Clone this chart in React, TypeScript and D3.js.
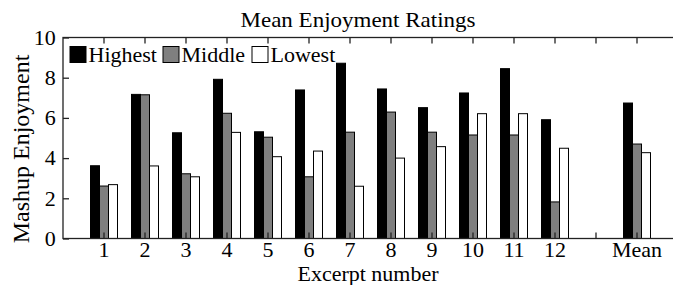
import React, { useEffect, useRef } from 'react';
import * as d3 from 'd3';

const tickLabels = ['1', '2', '3', '4', '5', '6', '7', '8', '9', '10', '11', '12', '', 'Mean'];
const seriesNames = ['Highest', 'Middle', 'Lowest'];
const highest = [3.62, 7.17, 5.26, 7.92, 5.31, 7.39, 8.72, 7.44, 6.51, 7.24, 8.45, 5.91, null, 6.74];
const middle = [2.61, 7.15, 3.22, 6.23, 5.04, 3.07, 5.29, 6.29, 5.29, 5.15, 5.15, 1.82, null, 4.7];
const lowest = [2.68, 3.61, 3.07, 5.28, 4.07, 4.35, 2.6, 4.0, 4.57, 6.21, 6.21, 4.49, null, 4.27];
const yTicks = [0, 2, 4, 6, 8, 10];

const colors = ['#000000', '#7f7f7f', '#ffffff'];
const font = '"Liberation Serif", "Times New Roman", serif';

const App: React.FC = () => {
  const svgRef = useRef<SVGSVGElement | null>(null);

  useEffect(() => {
    const svg = d3.select(svgRef.current);
    svg.selectAll('*').remove();

    const left = 63;
    const right = 678;
    const top = 37.5;
    const bottom = 238.5;
    const fs = 20;
    const sx = 1.1; // the original figure is a little stretched sideways

    // positions 1..14 on a 0..15 axis (MATLAB style)
    const x = d3
      .scaleBand<number>()
      .domain(d3.range(tickLabels.length))
      .range([left + (right - left) / 15 / 2, right - (right - left) / 15 / 2]);

    const y = d3.scaleLinear().domain([0, 10]).range([bottom, top]);

    const groupW = 27;
    const x1 = d3
      .scaleBand<number>()
      .domain([0, 1, 2])
      .range([(x.bandwidth() - groupW) / 2, (x.bandwidth() + groupW) / 2]);

    const series = [highest, middle, lowest];

    series.forEach((vals, si) => {
      svg
        .append('g')
        .selectAll('rect')
        .data(vals.map((v, i) => ({ v, i })).filter(d => d.v != null))
        .enter()
        .append('rect')
        .attr('x', d => x(d.i)! + x1(si)!)
        .attr('y', d => y(d.v as number))
        .attr('width', x1.bandwidth())
        .attr('height', d => y(0) - y(d.v as number))
        .attr('fill', colors[si])
        .attr('stroke', '#000')
        .attr('stroke-width', 1);
    });

    const axisColor = '#222';

    svg
      .append('rect')
      .attr('x', left)
      .attr('y', top)
      .attr('width', right - left)
      .attr('height', bottom - top)
      .attr('fill', 'none')
      .attr('stroke', axisColor)
      .attr('stroke-width', 1.3);

    const xAxisB = svg
      .append('g')
      .attr('transform', `translate(0,${bottom})`)
      .call(
        d3
          .axisBottom(x)
          .tickSizeInner(-6)
          .tickSizeOuter(0)
          .tickPadding(4.8)
          .tickFormat(i => tickLabels[i as number])
      );
    const xAxisT = svg
      .append('g')
      .attr('transform', `translate(0,${top})`)
      .call(d3.axisTop(x).tickSizeInner(-6).tickSizeOuter(0).tickFormat(() => ''));

    const yAxisL = svg
      .append('g')
      .attr('transform', `translate(${left},0)`)
      .call(d3.axisLeft(y).tickValues(yTicks).tickSizeInner(-6).tickSizeOuter(0).tickPadding(6.5));

    [xAxisB, xAxisT, yAxisL].forEach(g => {
      g.select('.domain').remove();
      g.selectAll('line').attr('stroke', axisColor).attr('stroke-width', 1.3);
      g.selectAll('text')
        .attr('fill', '#000')
        .style('font-family', font)
        .style('font-size', `${fs}px`);
    });
    xAxisB.selectAll('text').attr('dy', '0.71em').attr('transform', `scale(${sx},1)`);
    yAxisL.selectAll('text').attr('dy', '0.34em').attr('transform', `scale(${sx},1)`);

    const label = (tx: number, ty: number, txt: string, anchor = 'middle', size = fs, sc = sx) =>
      svg
        .append('text')
        .attr('transform', `translate(${tx},${ty}) scale(${sc},1)`)
        .attr('text-anchor', anchor)
        .style('font-family', font)
        .style('font-size', `${size}px`)
        .text(txt);

    label(358, 27, 'Mean Enjoyment Ratings', 'middle', fs, 1.15);
    label(368, 281, 'Excerpt number');

    svg
      .append('text')
      .attr('transform', `translate(29,149) rotate(-90)`)
      .attr('text-anchor', 'middle')
      .style('font-family', font)
      .style('font-size', '24px')
      .text('Mashup Enjoyment');

    const legendX = [70, 163, 252];
    seriesNames.forEach((name, i) => {
      svg
        .append('rect')
        .attr('x', legendX[i])
        .attr('y', 46.5)
        .attr('width', 16)
        .attr('height', 16)
        .attr('fill', colors[i])
        .attr('stroke', '#000')
        .attr('stroke-width', 1);
      label(legendX[i] + 18.5, 61.5, name, 'start');
    });
  }, []);

  return (
    <div>
      <svg
        ref={svgRef}
        width={673}
        height={285}
        style={{ position: 'absolute', left: 0, top: 0, background: '#fff' }}
      ></svg>
    </div>
  );
};

export default App;
